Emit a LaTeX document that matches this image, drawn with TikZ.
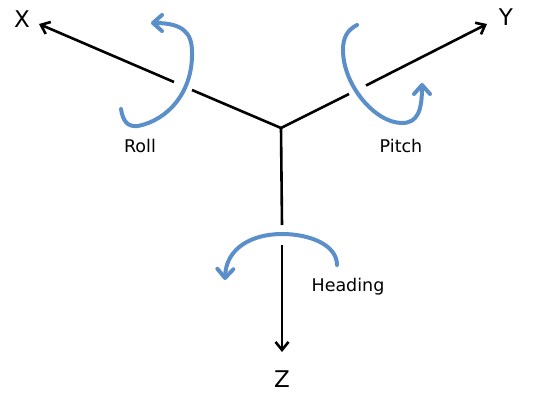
\documentclass[tikz,border=0pt]{standalone}
\usepackage{fontspec}
\setmainfont{DejaVu Sans}
\usetikzlibrary{arrows.meta}
\definecolor{rotblue}{RGB}{91,143,201}
\begin{document}
\begin{tikzpicture}[x=1pt,y=-1pt,
  axis/.style={line width=2.6pt,black},
  axisarrow/.style={axis,-{Straight Barb[length=8pt,width=13pt]}},
  rot/.style={line width=4pt,rotblue,line cap=round,-{Straight Barb[length=9pt,width=16pt,line cap=round,line join=round]}},
  axislabel/.style={anchor=base,inner sep=0pt,font=\fontsize{23}{26}\selectfont},
  rotlabel/.style={anchor=base,inner sep=0pt,font=\fontsize{17.5}{20}\selectfont}]
\useasboundingbox (0,0) rectangle (536,409);
% axis points
\coordinate (O) at (281,128);
\coordinate (Xt) at (39,24);
\coordinate (Yt) at (487,24);
\coordinate (Zt) at (282,352);
\coordinate (Xg1) at (192,90);
\coordinate (Xg2) at (174,82);
\coordinate (Yg1) at (349,94);
\coordinate (Yg2) at (366,85.5);
\coordinate (Zg1) at (282,225);
\coordinate (Zg2) at (282,245);
% axes with gaps where the rotation arrows pass in front
\draw[axis] (O) -- (Xg1);
\draw[axisarrow] (Xg2) -- (Xt);
\draw[axis] (O) -- (Yg1);
\draw[axisarrow] (Yg2) -- (Yt);
\draw[axis] (O) -- (Zg1);
\draw[axisarrow] (Zg2) -- (Zt);
% rotation arrows
\draw[rot] (121,109) .. controls (123,122) and (128,127) .. (138,126)
  .. controls (168,120) and (193,92) .. (192,52)
  .. controls (192,33) and (183,23) .. (151,23);
\draw[rot] (357,25) .. controls (347,30) and (343,38) .. (343,50)
  .. controls (343,85) and (375,123) .. (402,123)
  .. controls (418,123) and (422,110) .. (422,83);
\draw[rot] (337,265) .. controls (337,245) and (310,234) .. (282,234)
  .. controls (252,234) and (226,248) .. (225,280);
% labels
\node[axislabel] (lx) at (22,28) {X};
\node[axislabel] (ly) at (506,26) {Y};
\node[axislabel] (lz) at (282,387) {Z};
\node[rotlabel] (lroll) at (140,153) {Roll};
\node[rotlabel] (lpitch) at (401,153) {Pitch};
\node[rotlabel] (lhead) at (348,291) {Heading};
\end{tikzpicture}
\end{document}
